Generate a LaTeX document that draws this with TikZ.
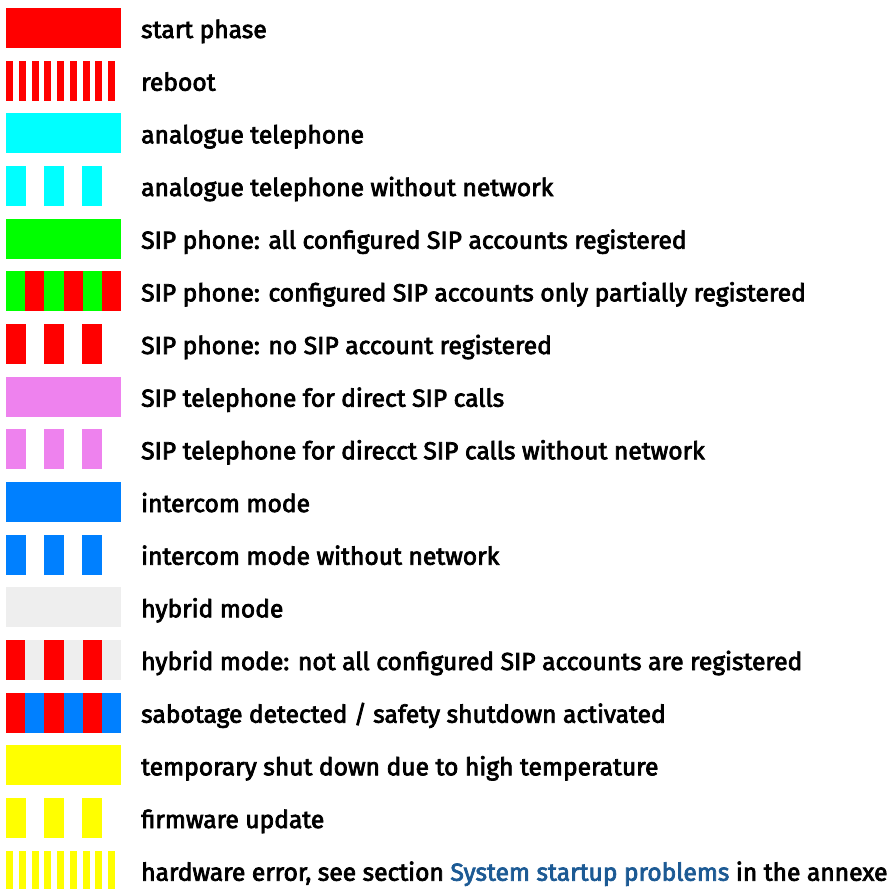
\documentclass[tikz,border=0pt]{standalone}
\usepackage{fontspec}
\setmainfont{Fira Sans}[BoldFont=Fira Sans,BoldFeatures={FakeBold=3}]
\usepackage{xcolor}
\definecolor{ledred}{HTML}{FF0000}
\definecolor{ledcyan}{HTML}{00FFFF}
\definecolor{ledgreen}{HTML}{00FF00}
\definecolor{ledviolet}{HTML}{EE82EE}
\definecolor{ledblue}{HTML}{0080FF}
\definecolor{ledgray}{HTML}{EEEEEE}
\definecolor{ledyellow}{HTML}{FFFF00}
\definecolor{linkblue}{HTML}{1C5A94}

% swatches: #1 = top edge of the row
\newcommand{\swsolid}[2]{\fill[#2] (6,#1) rectangle ++(115,40);}
\newcommand{\swdash}[2]{\foreach \k in {0,1,2} \fill[#2] ({6+38*\k},#1) rectangle ++(20,40);}
\newcommand{\swalt}[3]{\fill[#3] (6,#1) rectangle ++(115,40);
  \foreach \k in {0,2,4} \fill[#2] ({6+115/6*\k},#1) rectangle ++(115/6,40);}
\newcommand{\swstripe}[2]{\foreach \k in {0,...,8} \fill[#2] ({6+12.75*\k},#1) rectangle ++(7,40);}

\begin{document}
\begin{tikzpicture}[x=1pt,y=-1pt,
                    lbl/.style={anchor=base west,inner sep=0pt,font=\fontsize{24.6}{28}\selectfont\bfseries}]
  \useasboundingbox (0,0) rectangle (893,888);

  \swsolid{8}{ledred}
  \node[lbl] (l0) at (141,38) {start phase};
  \swstripe{60.7}{ledred}
  \node[lbl] (l1) at (141,90.7) {reboot};
  \swsolid{113.3}{ledcyan}
  \node[lbl] (l2) at (141,143.3) {analogue telephone};
  \swdash{166}{ledcyan}
  \node[lbl] (l3) at (141,196) {analogue telephone without network};
  \swsolid{218.7}{ledgreen}
  \node[lbl] (l4) at (141,248.7) {SIP phone: all configured SIP accounts registered};
  \swalt{271.3}{ledgreen}{ledred}
  \node[lbl] (l5) at (141,301.3) {SIP phone: configured SIP accounts only partially registered};
  \swdash{324}{ledred}
  \node[lbl] (l6) at (141,354) {SIP phone: no SIP account registered};
  \swsolid{376.7}{ledviolet}
  \node[lbl] (l7) at (141,406.7) {SIP telephone for direct SIP calls};
  \swdash{429.3}{ledviolet}
  \node[lbl] (l8) at (141,459.3) {SIP telephone for direcct SIP calls without network};
  \swsolid{482}{ledblue}
  \node[lbl] (l9) at (141,512) {intercom mode};
  \swdash{534.7}{ledblue}
  \node[lbl] (l10) at (141,564.7) {intercom mode without network};
  \swsolid{587.3}{ledgray}
  \node[lbl] (l11) at (141,617.3) {hybrid mode};
  \swalt{640}{ledred}{ledgray}
  \node[lbl] (l12) at (141,670) {hybrid mode: not all configured SIP accounts are registered};
  \swalt{692.7}{ledred}{ledblue}
  \node[lbl] (l13) at (141,722.7) {sabotage detected / safety shutdown activated};
  \swsolid{745.3}{ledyellow}
  \node[lbl] (l14) at (141,775.3) {temporary shut down due to high temperature};
  \swdash{798}{ledyellow}
  \node[lbl] (l15) at (141,828) {firmware update};
  \swstripe{850.7}{ledyellow}
  \node[lbl] (l16) at (141,880.7) {hardware error, see section \textcolor{linkblue}{System startup problems} in the annexe};
\end{tikzpicture}
\end{document}
